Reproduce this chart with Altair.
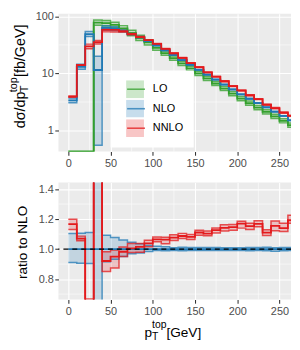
import altair as alt
import pandas as pd

# ---------------- data ----------------
bin_lo = [0, 10, 20, 30, 40, 50, 60, 70, 80, 90, 100, 110, 120, 130, 140,
          150, 160, 170, 180, 190, 200, 210, 220, 230, 240, 250, 260]
bin_end = 270

lo_c = [0, 0, 0, 78, 76, 71, 62, 51, 42, 35, 28, 22.7, 18.5, 15.05, 12.27,
        10.03, 8.17, 6.67, 5.44, 4.44, 3.61, 3.01, 2.51, 2.12, 1.77, 1.48, 1.24]
lo_dn = [0, 0, 0, 70, 68, 64, 56, 46, 38, 31.5, 25.5, 20.8, 17.0, 13.8, 11.3,
         9.2, 7.5, 6.13, 5.0, 4.08, 3.32, 2.77, 2.31, 1.95, 1.62, 1.36, 1.14]
lo_up = [0, 0, 0, 87, 85, 79, 69, 57, 47, 39, 31, 24.8, 20.2, 16.4, 13.4,
         10.9, 8.9, 7.27, 5.93, 4.84, 3.93, 3.28, 2.74, 2.31, 1.93, 1.61, 1.35]

nlo_c = [3.37, 13.1, 49, 11.5, 63, 61, 56, 49, 43, 37, 31, 25.5, 21.0, 17.2, 14.1,
         11.6, 9.5, 7.8, 6.4, 5.25, 4.3, 3.6, 3.03, 2.55, 2.14, 1.8, 1.51]
nlo_dn = [3.07, 11.86, 44.3, 0.55, 57.7, 56.9, 53.2, 47.5, 41.9, 36.4, 30.7, 25.2, 20.8, 17.0, 13.96,
          11.48, 9.41, 7.72, 6.34, 5.2, 4.26, 3.56, 3.0, 2.52, 2.11, 1.78, 1.495]
nlo_up = [3.72, 14.48, 54.4, 20.0, 68.8, 65.7, 59.4, 51.2, 44.5, 37.9, 31.6, 25.9, 21.2, 17.4, 14.24,
          11.72, 9.6, 7.88, 6.46, 5.3, 4.34, 3.64, 3.06, 2.58, 2.16, 1.82, 1.525]

nnlo_c = [3.93, 14.02, 29.8, 35.5, 58.0, 57.9, 55.0, 49.2, 43.6, 38.4, 33.0, 27.1, 22.6, 18.7, 15.24,
          12.88, 10.48, 8.78, 7.30, 6.02, 5.03, 4.15, 3.54, 2.83, 2.47, 2.05, 1.80]
nnlo_dn = [3.81, 13.82, 27.2, 33.0, 53.6, 53.3, 53.2, 47.9, 42.1, 37.6, 32.5, 26.4, 22.2, 18.4, 15.0,
           12.67, 10.34, 8.64, 7.17, 5.91, 4.90, 4.07, 3.48, 2.78, 2.40, 2.01, 1.77]
nnlo_up = [4.04, 14.23, 32.7, 38.0, 61.9, 60.6, 56.8, 50.8, 44.6, 39.2, 33.5, 27.5, 23.0, 19.0, 15.47,
           13.05, 10.64, 8.89, 7.44, 6.11, 5.10, 4.22, 3.60, 2.88, 2.54, 2.11, 1.85]

orders = ["LO", "NLO", "NNLO"]
colors = ["#33a02c", "#1f78b4", "#e31a1c"]

x_ticks = [0, 50, 100, 150, 200, 250]
x_minor = [25, 75, 125, 175, 225]
y_top_ticks = [1, 10, 100]
y_top_minor = [3.162, 31.62]
y_rat_ticks = [0.8, 1.0, 1.2, 1.4]
y_rat_minor = [0.7, 0.9, 1.1, 1.3]
ref_line = [1.0]

# ---------------- tables ----------------
edges = bin_lo + [bin_end]
series = {"LO": (lo_dn, lo_c, lo_up), "NLO": (nlo_dn, nlo_c, nlo_up),
          "NNLO": (nnlo_dn, nnlo_c, nnlo_up)}
rows = []
for o in orders:
    dn, c, up = series[o]
    for i, x in enumerate(edges):
        j = min(i, len(c) - 1)
        rows.append(dict(x=x, order=o, order_line=o,
                         dn=max(dn[j], 1e-3), c=max(c[j], 1e-3), up=max(up[j], 1e-3),
                         r_dn=dn[j] / nlo_c[j], r_c=c[j] / nlo_c[j], r_up=up[j] / nlo_c[j]))
df = pd.DataFrame(rows)
df_rat = df[df.order != "LO"]

FONT = "Liberation Sans"
W = 235
PLOT_TOP = 10.7          # page y of the top panel once laid out
H_TOP = 150 - PLOT_TOP
H_BOT = 118.3
LW_C = 1.8
LW_E = 1.5

x_scale = alt.Scale(domain=[-11.7, 263.7], nice=False, zero=False)
x_axis = alt.Axis(values=x_ticks, title=None, labelPadding=2)
fill_scale = alt.Scale(domain=orders, range=colors)
stroke_scale = alt.Scale(range=colors)

leg_common = dict(orient="none", legendX=52.7, legendY=68 - PLOT_TOP, title=None, padding=10,
                  symbolSize=324, symbolOffset=5.7, clipHeight=18, rowPadding=1.7,
                  labelOffset=9, labelFontSize=11, labelFont=FONT, labelColor="black",
                  zindex=1)
fill_legend = alt.Legend(fillColor="white", symbolType="square", symbolOpacity=0.25,
                         symbolStrokeWidth=0, **leg_common)
stroke_legend = alt.Legend(symbolType="M-1,0H1", symbolStrokeWidth=1.6,
                           symbolFillColor="transparent", labelExpr="''", **leg_common)

dummy = pd.DataFrame({"k": [0]})


def txt(text, x, y, size, angle=0):
    return alt.Chart(dummy).mark_text(text=text, fontSize=size, font=FONT, angle=angle,
                                      align="left", baseline="alphabetic",
                                      color="black").encode(x=alt.value(x), y=alt.value(y))


# ---------------- top panel ----------------
y_top = alt.Scale(type="log", domain=[0.427, 111.6], nice=False, clamp=True)
y_top_axis = alt.Axis(values=y_top_ticks, format="d", title=None)

base_top = alt.Chart(df)
vgrid_t = alt.Chart(pd.DataFrame({"v": x_minor})).mark_rule(color="white", strokeWidth=0.55).encode(
    x=alt.X("v:Q", scale=x_scale, axis=x_axis))
hgrid_t = alt.Chart(pd.DataFrame({"v": y_top_minor})).mark_rule(color="white", strokeWidth=0.55).encode(
    y=alt.Y("v:Q", scale=y_top, axis=y_top_axis))
band_t = base_top.mark_area(interpolate="step-after", fillOpacity=0.2, clip=True).encode(
    x=alt.X("x:Q", scale=x_scale, axis=x_axis),
    y=alt.Y("dn:Q", scale=y_top, axis=y_top_axis),
    y2="up:Q",
    fill=alt.Fill("order:N", scale=fill_scale, legend=fill_legend))
edge_t = base_top.transform_fold(["dn", "up"], as_=["k", "v"]).mark_line(
    interpolate="step-after", strokeWidth=LW_E, opacity=0.75, clip=True).encode(
    x=alt.X("x:Q", scale=x_scale, axis=x_axis),
    y=alt.Y("v:Q", scale=y_top, axis=y_top_axis),
    detail="k:N",
    stroke=alt.Stroke("order_line:N", scale=stroke_scale, legend=stroke_legend))
cen_t = base_top.mark_line(interpolate="step-after", strokeWidth=LW_C, clip=True).encode(
    x=alt.X("x:Q", scale=x_scale, axis=x_axis),
    y=alt.Y("c:Q", scale=y_top, axis=y_top_axis),
    stroke=alt.Stroke("order_line:N", scale=stroke_scale, legend=stroke_legend))

FS_T = 14.5
FS_S = 11
bx = 24.4 - 58.3
w1 = 2.516 * FS_T
w2 = 1.39 * FS_S
tot = w1 + w2 + 3.947 * FS_T
y0 = 72 + tot / 2 - PLOT_TOP
t1 = txt("dσ/dp", bx, y0, FS_T, 270)
t2 = txt("top", bx - 7.6, y0 - w1, FS_S, 270)
t3 = txt("T", bx + 3.0, y0 - w1, FS_S, 270)
t4 = txt(" [fb/GeV]", bx, y0 - w1 - w2, FS_T, 270)

top = alt.layer(vgrid_t, hgrid_t, band_t, edge_t, cen_t, t1, t2, t3, t4).properties(
    width=W, height=H_TOP)

# ---------------- ratio panel ----------------
y_rat = alt.Scale(domain=[0.664, 1.444], nice=False, zero=False)
y_rat_axis = alt.Axis(values=y_rat_ticks, format=".1f", title=None)
base_bot = alt.Chart(df_rat)
vgrid_b = alt.Chart(pd.DataFrame({"v": x_minor})).mark_rule(color="white", strokeWidth=0.55).encode(
    x=alt.X("v:Q", scale=x_scale, axis=x_axis))
hgrid_b = alt.Chart(pd.DataFrame({"v": y_rat_minor})).mark_rule(color="white", strokeWidth=0.55).encode(
    y=alt.Y("v:Q", scale=y_rat, axis=y_rat_axis))
band_b = base_bot.mark_area(interpolate="step-after", fillOpacity=0.2, clip=True).encode(
    x=alt.X("x:Q", scale=x_scale, axis=x_axis),
    y=alt.Y("r_dn:Q", scale=y_rat, axis=y_rat_axis),
    y2="r_up:Q",
    fill=alt.Fill("order:N", scale=fill_scale, legend=None))
edge_b = base_bot.transform_fold(["r_dn", "r_up"], as_=["k", "v"]).mark_line(
    interpolate="step-after", strokeWidth=LW_E, opacity=0.75, clip=True).encode(
    x=alt.X("x:Q", scale=x_scale, axis=x_axis),
    y=alt.Y("v:Q", scale=y_rat, axis=y_rat_axis),
    detail="k:N",
    stroke=alt.Stroke("order_line:N", scale=alt.Scale(domain=orders, range=colors), legend=None))
cen_b = base_bot.mark_line(interpolate="step-after", strokeWidth=LW_C, clip=True).encode(
    x=alt.X("x:Q", scale=x_scale, axis=x_axis),
    y=alt.Y("r_c:Q", scale=y_rat, axis=y_rat_axis),
    stroke=alt.Stroke("order_line:N", scale=alt.Scale(domain=orders, range=colors), legend=None))
ref = alt.Chart(pd.DataFrame({"v": ref_line})).mark_rule(
    color="black", strokeWidth=1.4, strokeDash=[5, 4]).encode(
    y=alt.Y("v:Q", scale=y_rat, axis=y_rat_axis))

r1 = alt.Chart(dummy).mark_text(text="ratio to NLO", fontSize=13.75, font=FONT, angle=270,
                                align="center", baseline="alphabetic", color="black").encode(
    x=alt.value(26.5 - 58.3), y=alt.value(60.6))
xb = 156.7
p1 = txt("p", 145.2 - 58.3, xb, 13.75)
p2 = txt("top", 152.85 - 58.3, xb - 9.7, 10.5)
p3 = txt("T", 152.85 - 58.3, xb + 3.0, 10.5)
p4 = txt(" [GeV]", 167.4 - 58.3, xb, 13.75)

bot = alt.layer(vgrid_b, hgrid_b, band_b, edge_b, cen_b, ref, r1, p1, p2, p3, p4).properties(
    width=W, height=H_BOT)

chart = alt.vconcat(top, bot, spacing=13.5).resolve_scale(
    x="independent", y="independent", fill="independent", stroke="independent"
).properties(padding={"left": 0, "top": 0, "right": 0, "bottom": 0}).configure_view(
    fill="#ebebeb", stroke=None
).configure_axis(
    domain=False, grid=True, gridColor="white", gridWidth=1.07,
    tickColor="#333333", tickSize=3.7, tickWidth=1.07,
    labelColor="#4d4d4d", labelFontSize=11, labelFont=FONT, labelPadding=1.5
)

chart.save("out.html", embed_options={"renderer": "svg", "actions": False})
